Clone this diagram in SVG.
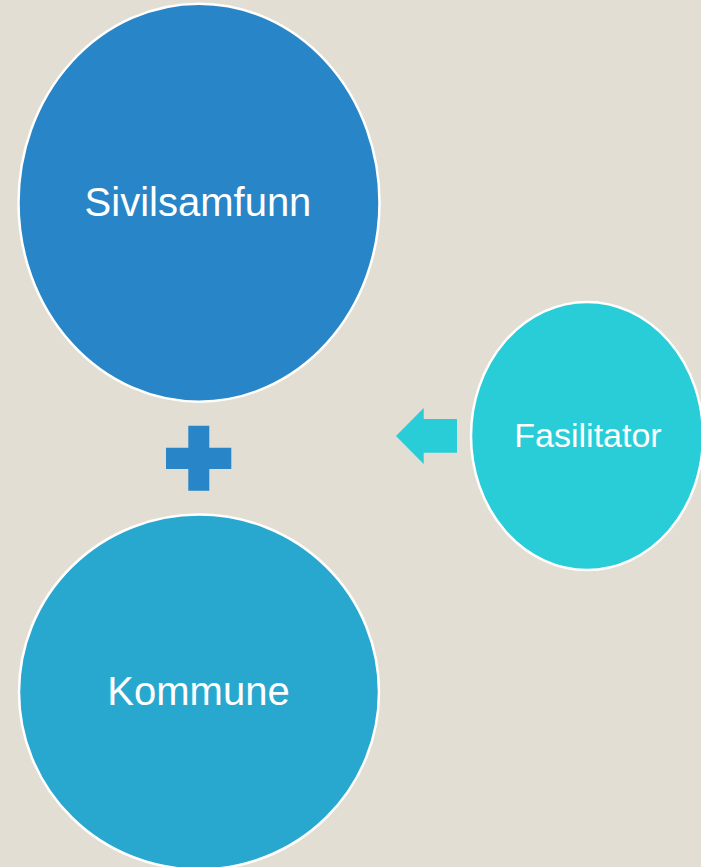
<svg xmlns="http://www.w3.org/2000/svg" width="701" height="867" viewBox="0 0 701 867">
<style>
.node{stroke:#FFFFFF;stroke-width:2.5}
.lbl{font-family:"Liberation Sans",Arial,sans-serif;fill:#FFFFFF;text-anchor:middle}
</style>
<rect x="0" y="0" width="701" height="867" fill="#E3DED3"/>
<g id="sivilsamfunn">
<ellipse class="node" cx="199" cy="202.7" rx="180.5" ry="199" fill="#2886C8"/>
<text class="lbl" x="198" y="216" font-size="40">Sivilsamfunn</text>
</g>
<g id="kommune">
<ellipse class="node" cx="199" cy="692" rx="180" ry="177.5" fill="#29A8CF"/>
<text class="lbl" x="198.5" y="705" font-size="40">Kommune</text>
</g>
<g id="fasilitator">
<ellipse class="node" cx="587" cy="436" rx="116" ry="134" fill="#29CDD7"/>
<text class="lbl" x="588" y="447" font-size="34">Fasilitator</text>
</g>
<g id="connectors">
<path id="plus" d="M188.3,425.7 H209.3 V447.7 H231.3 V469 H209.3 V490.7 H188.3 V469 H166 V447.7 H188.3 Z" fill="#2886C8"/>
<path id="arrow" d="M396,436 L423.7,408 V419 H457 V452.7 H423.7 V464 Z" fill="#29CDD7"/>
</g>
</svg>
